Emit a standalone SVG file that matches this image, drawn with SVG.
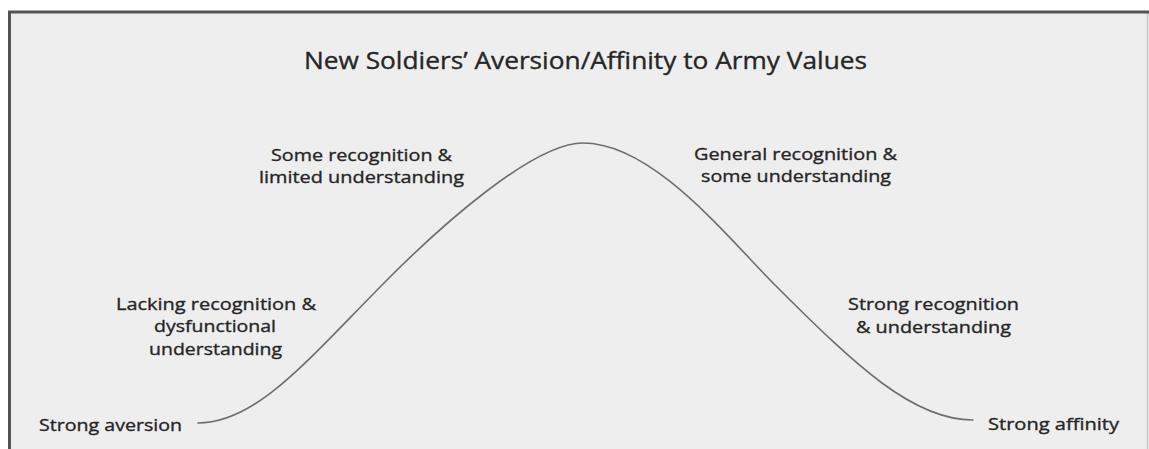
<svg xmlns="http://www.w3.org/2000/svg" width="1149" height="449" viewBox="0 0 1149 449">
  <style>
    text { font-family: "Open Sans", "Liberation Sans", sans-serif; fill: #262626; stroke: #262626; stroke-width: 0.35; text-anchor: middle; }
    .title { font-size: 23.5px; }
    .lbl { font-size: 16.8px; }
    .curve { fill: none; stroke: #6e6e6e; stroke-width: 1.6; stroke-linecap: round; }
  </style>

  <!-- page background and panel -->
  <rect x="0" y="0" width="1149" height="449" fill="#ffffff"/>
  <rect x="9.5" y="12" width="1140" height="440" fill="#eeeeee"/>
  <line x1="1147.5" y1="12" x2="1147.5" y2="449" stroke="#c8c8c8" stroke-width="1.5"/>
  <path d="M9.5 449 V12 H1149" fill="none" stroke="#545454" stroke-width="3"/>

  <g id="title">
    <text class="title" x="585.5" y="69" textLength="563" lengthAdjust="spacingAndGlyphs">New Soldiers’ Aversion/Affinity to Army Values</text>
  </g>

  <!-- bell curve: two cubic segments per flank -->
  <g id="connectors">
    <path class="curve" d="M198 423
      C258 423 310 357 390 277
      C440 227 533 143 583 143
      C653 143 726 236 776 286
      C856 366 913 420 973 420"/>
  </g>

  <g id="node-strong-aversion">
    <text class="lbl" x="110.5" y="431" textLength="143" lengthAdjust="spacingAndGlyphs">Strong aversion</text>
  </g>

  <g id="node-lacking">
    <text class="lbl" x="216" y="310" textLength="200" lengthAdjust="spacingAndGlyphs">Lacking recognition &amp;</text>
    <text class="lbl" x="215" y="332" textLength="122" lengthAdjust="spacingAndGlyphs">dysfunctional</text>
    <text class="lbl" x="215.5" y="355" textLength="133" lengthAdjust="spacingAndGlyphs">understanding</text>
  </g>

  <g id="node-some">
    <text class="lbl" x="361.5" y="161" textLength="181" lengthAdjust="spacingAndGlyphs">Some recognition &amp;</text>
    <text class="lbl" x="361.5" y="183" textLength="205" lengthAdjust="spacingAndGlyphs">limited understanding</text>
  </g>

  <g id="node-general">
    <text class="lbl" x="795.5" y="160" textLength="203" lengthAdjust="spacingAndGlyphs">General recognition &amp;</text>
    <text class="lbl" x="796" y="182" textLength="190" lengthAdjust="spacingAndGlyphs">some understanding</text>
  </g>

  <g id="node-strong-recognition">
    <text class="lbl" x="933.5" y="310" textLength="171" lengthAdjust="spacingAndGlyphs">Strong recognition</text>
    <text class="lbl" x="933.5" y="333" textLength="155" lengthAdjust="spacingAndGlyphs">&amp; understanding</text>
  </g>

  <g id="node-strong-affinity">
    <text class="lbl" x="1053.5" y="430" textLength="131" lengthAdjust="spacingAndGlyphs">Strong affinity</text>
  </g>
</svg>
